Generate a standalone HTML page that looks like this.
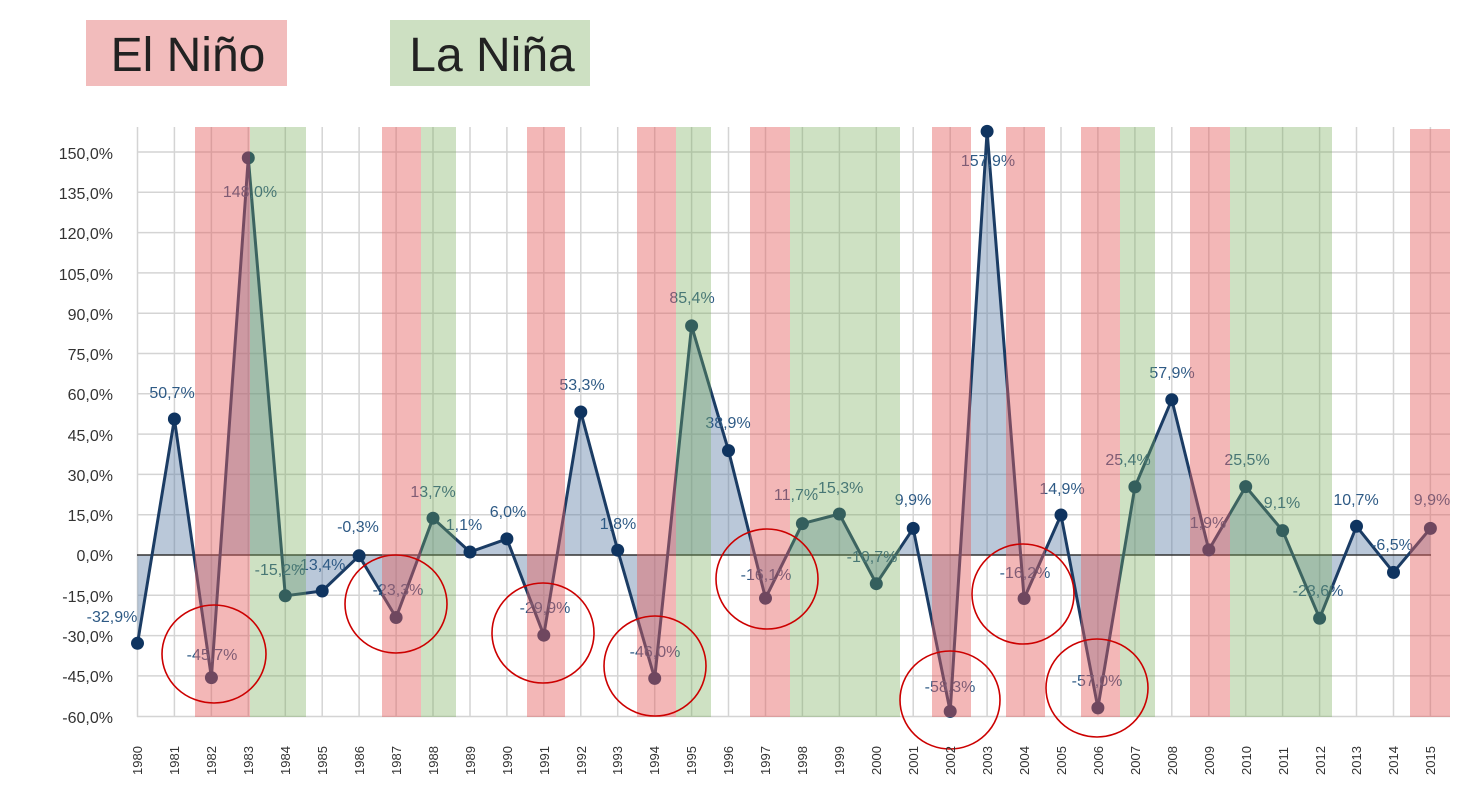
<!DOCTYPE html>
<html><head><meta charset="utf-8"><style>
body{margin:0;background:#fff;width:1459px;height:792px;overflow:hidden}
svg{display:block;font-family:"Liberation Sans",sans-serif}
</style></head><body>
<svg width="1459" height="792" viewBox="0 0 1459 792">
<rect x="86" y="20" width="201" height="66" fill="#f2bcbc"/>
<text x="188" y="71" font-size="48" text-anchor="middle" fill="#222">El Niño</text>
<rect x="390" y="20" width="200" height="66" fill="#cde0c2"/>
<text x="492" y="71" font-size="48" text-anchor="middle" fill="#222">La Niña</text>
<g stroke="#d4d4d4" stroke-width="1.5">
<line x1="137" y1="152" x2="1450" y2="152"/><line x1="137" y1="192.3" x2="1450" y2="192.3"/><line x1="137" y1="232.6" x2="1450" y2="232.6"/><line x1="137" y1="272.9" x2="1450" y2="272.9"/><line x1="137" y1="313.2" x2="1450" y2="313.2"/><line x1="137" y1="353.5" x2="1450" y2="353.5"/><line x1="137" y1="393.8" x2="1450" y2="393.8"/><line x1="137" y1="434.1" x2="1450" y2="434.1"/><line x1="137" y1="474.4" x2="1450" y2="474.4"/><line x1="137" y1="514.7" x2="1450" y2="514.7"/><line x1="137" y1="595.3" x2="1450" y2="595.3"/><line x1="137" y1="635.6" x2="1450" y2="635.6"/><line x1="137" y1="675.9" x2="1450" y2="675.9"/><line x1="137" y1="716.5" x2="1450" y2="716.5"/>
<line x1="137.5" y1="127" x2="137.5" y2="717"/><line x1="174.4" y1="127" x2="174.4" y2="717"/><line x1="211.4" y1="127" x2="211.4" y2="717"/><line x1="248.3" y1="127" x2="248.3" y2="717"/><line x1="285.3" y1="127" x2="285.3" y2="717"/><line x1="322.2" y1="127" x2="322.2" y2="717"/><line x1="359.1" y1="127" x2="359.1" y2="717"/><line x1="396.1" y1="127" x2="396.1" y2="717"/><line x1="433" y1="127" x2="433" y2="717"/><line x1="470" y1="127" x2="470" y2="717"/><line x1="506.9" y1="127" x2="506.9" y2="717"/><line x1="543.8" y1="127" x2="543.8" y2="717"/><line x1="580.8" y1="127" x2="580.8" y2="717"/><line x1="617.7" y1="127" x2="617.7" y2="717"/><line x1="654.7" y1="127" x2="654.7" y2="717"/><line x1="691.6" y1="127" x2="691.6" y2="717"/><line x1="728.5" y1="127" x2="728.5" y2="717"/><line x1="765.5" y1="127" x2="765.5" y2="717"/><line x1="802.4" y1="127" x2="802.4" y2="717"/><line x1="839.4" y1="127" x2="839.4" y2="717"/><line x1="876.3" y1="127" x2="876.3" y2="717"/><line x1="913.2" y1="127" x2="913.2" y2="717"/><line x1="950.2" y1="127" x2="950.2" y2="717"/><line x1="987.1" y1="127" x2="987.1" y2="717"/><line x1="1024.1" y1="127" x2="1024.1" y2="717"/><line x1="1061" y1="127" x2="1061" y2="717"/><line x1="1097.9" y1="127" x2="1097.9" y2="717"/><line x1="1134.9" y1="127" x2="1134.9" y2="717"/><line x1="1171.8" y1="127" x2="1171.8" y2="717"/><line x1="1208.8" y1="127" x2="1208.8" y2="717"/><line x1="1245.7" y1="127" x2="1245.7" y2="717"/><line x1="1282.6" y1="127" x2="1282.6" y2="717"/><line x1="1319.6" y1="127" x2="1319.6" y2="717"/><line x1="1356.5" y1="127" x2="1356.5" y2="717"/><line x1="1393.5" y1="127" x2="1393.5" y2="717"/><line x1="1430.4" y1="127" x2="1430.4" y2="717"/>
</g>
<polygon fill="rgba(90,125,165,0.42)" points="137.5,555 137.5,643.3 174.4,419 211.4,677.6 248.3,157.9 285.3,595.8 322.2,591 359.1,555.8 396.1,617.5 433,518.2 470,552 506.9,538.9 543.8,635.2 580.8,412 617.7,550.2 654.7,678.4 691.6,325.9 728.5,450.6 765.5,598.2 802.4,523.6 839.4,514 876.3,583.7 913.2,528.4 950.2,711.4 987.1,131.4 1024.1,598.5 1061,515 1097.9,707.9 1134.9,486.9 1171.8,399.7 1208.8,549.9 1245.7,486.6 1282.6,530.6 1319.6,618.3 1356.5,526.3 1393.5,572.4 1430.4,528.4 1430.4,555"/>
<line x1="137" y1="555" x2="1431" y2="555" stroke="#333" stroke-width="1.5"/>
<polyline fill="none" stroke="#1b3c64" stroke-width="3" stroke-linejoin="round" points="137.5,643.3 174.4,419 211.4,677.6 248.3,157.9 285.3,595.8 322.2,591 359.1,555.8 396.1,617.5 433,518.2 470,552 506.9,538.9 543.8,635.2 580.8,412 617.7,550.2 654.7,678.4 691.6,325.9 728.5,450.6 765.5,598.2 802.4,523.6 839.4,514 876.3,583.7 913.2,528.4 950.2,711.4 987.1,131.4 1024.1,598.5 1061,515 1097.9,707.9 1134.9,486.9 1171.8,399.7 1208.8,549.9 1245.7,486.6 1282.6,530.6 1319.6,618.3 1356.5,526.3 1393.5,572.4 1430.4,528.4"/>
<g fill="#0f3460">
<circle cx="137.5" cy="643.3" r="6.5"/><circle cx="174.4" cy="419" r="6.5"/><circle cx="211.4" cy="677.6" r="6.5"/><circle cx="248.3" cy="157.9" r="6.5"/><circle cx="285.3" cy="595.8" r="6.5"/><circle cx="322.2" cy="591" r="6.5"/><circle cx="359.1" cy="555.8" r="6.5"/><circle cx="396.1" cy="617.5" r="6.5"/><circle cx="433" cy="518.2" r="6.5"/><circle cx="470" cy="552" r="6.5"/><circle cx="506.9" cy="538.9" r="6.5"/><circle cx="543.8" cy="635.2" r="6.5"/><circle cx="580.8" cy="412" r="6.5"/><circle cx="617.7" cy="550.2" r="6.5"/><circle cx="654.7" cy="678.4" r="6.5"/><circle cx="691.6" cy="325.9" r="6.5"/><circle cx="728.5" cy="450.6" r="6.5"/><circle cx="765.5" cy="598.2" r="6.5"/><circle cx="802.4" cy="523.6" r="6.5"/><circle cx="839.4" cy="514" r="6.5"/><circle cx="876.3" cy="583.7" r="6.5"/><circle cx="913.2" cy="528.4" r="6.5"/><circle cx="950.2" cy="711.4" r="6.5"/><circle cx="987.1" cy="131.4" r="6.5"/><circle cx="1024.1" cy="598.5" r="6.5"/><circle cx="1061" cy="515" r="6.5"/><circle cx="1097.9" cy="707.9" r="6.5"/><circle cx="1134.9" cy="486.9" r="6.5"/><circle cx="1171.8" cy="399.7" r="6.5"/><circle cx="1208.8" cy="549.9" r="6.5"/><circle cx="1245.7" cy="486.6" r="6.5"/><circle cx="1282.6" cy="530.6" r="6.5"/><circle cx="1319.6" cy="618.3" r="6.5"/><circle cx="1356.5" cy="526.3" r="6.5"/><circle cx="1393.5" cy="572.4" r="6.5"/><circle cx="1430.4" cy="528.4" r="6.5"/>
</g>
<g fill="#2e5a85" font-size="16" text-anchor="middle">
<text x="112" y="622">-32,9%</text><text x="172" y="398">50,7%</text><text x="212" y="660">-45,7%</text><text x="250" y="197">148,0%</text><text x="280" y="575">-15,2%</text><text x="320" y="570">-13,4%</text><text x="358" y="532">-0,3%</text><text x="398" y="595">-23,3%</text><text x="433" y="497">13,7%</text><text x="464" y="530">1,1%</text><text x="508" y="517">6,0%</text><text x="545" y="613">-29,9%</text><text x="582" y="390">53,3%</text><text x="618" y="529">1,8%</text><text x="655" y="657">-46,0%</text><text x="692" y="303">85,4%</text><text x="728" y="428">38,9%</text><text x="766" y="580">-16,1%</text><text x="796" y="500">11,7%</text><text x="838" y="493">-15,3%</text><text x="872" y="562">-10,7%</text><text x="913" y="505">9,9%</text><text x="950" y="692">-58,3%</text><text x="988" y="166">157,9%</text><text x="1025" y="578">-16,2%</text><text x="1062" y="494">14,9%</text><text x="1097" y="686">-57,0%</text><text x="1128" y="465">25,4%</text><text x="1172" y="378">57,9%</text><text x="1208" y="528">1,9%</text><text x="1247" y="465">25,5%</text><text x="1282" y="508">9,1%</text><text x="1318" y="596">-23,6%</text><text x="1356" y="505">10,7%</text><text x="1392" y="550">-6,5%</text><text x="1432" y="505">9,9%</text>
</g>
<g fill="rgba(228,95,95,0.45)">
<rect x="195" y="127" width="55" height="590"/><rect x="382" y="127" width="39" height="590"/><rect x="527" y="127" width="38" height="590"/><rect x="637" y="127" width="39" height="590"/><rect x="750" y="127" width="40" height="590"/><rect x="932" y="127" width="39" height="590"/><rect x="1006" y="127" width="39" height="590"/><rect x="1081" y="127" width="39" height="590"/><rect x="1190" y="127" width="40" height="590"/><rect x="1410" y="129" width="40" height="588"/>
</g>
<g fill="rgba(120,172,90,0.36)">
<rect x="250" y="127" width="56" height="590"/><rect x="421" y="127" width="35" height="590"/><rect x="676" y="127" width="35" height="590"/><rect x="790" y="127" width="110" height="590"/><rect x="1120" y="127" width="35" height="590"/><rect x="1230" y="127" width="102" height="590"/>
</g>
<g fill="none" stroke="#cc0000" stroke-width="1.6">
<ellipse cx="214" cy="654" rx="52" ry="49"/><ellipse cx="396" cy="604" rx="51" ry="49"/><ellipse cx="543" cy="633" rx="51" ry="50"/><ellipse cx="655" cy="666" rx="51" ry="50"/><ellipse cx="767" cy="579" rx="51" ry="50"/><ellipse cx="950" cy="700" rx="50" ry="49"/><ellipse cx="1023" cy="594" rx="51" ry="50"/><ellipse cx="1097" cy="688" rx="51" ry="49"/>
</g>
<g fill="#333" font-size="16" text-anchor="end">
<text x="113" y="159">150,0%</text><text x="113" y="199">135,0%</text><text x="113" y="239">120,0%</text><text x="113" y="280">105,0%</text><text x="113" y="320">90,0%</text><text x="113" y="360">75,0%</text><text x="113" y="400">60,0%</text><text x="113" y="441">45,0%</text><text x="113" y="481">30,0%</text><text x="113" y="521">15,0%</text><text x="113" y="561">0,0%</text><text x="113" y="602">-15,0%</text><text x="113" y="642">-30,0%</text><text x="113" y="682">-45,0%</text><text x="113" y="723">-60,0%</text>
</g>
<g fill="#333" font-size="13">
<text transform="translate(142,775) rotate(-90)">1980</text><text transform="translate(179,775) rotate(-90)">1981</text><text transform="translate(216,775) rotate(-90)">1982</text><text transform="translate(253,775) rotate(-90)">1983</text><text transform="translate(290,775) rotate(-90)">1984</text><text transform="translate(327,775) rotate(-90)">1985</text><text transform="translate(364,775) rotate(-90)">1986</text><text transform="translate(401,775) rotate(-90)">1987</text><text transform="translate(438,775) rotate(-90)">1988</text><text transform="translate(475,775) rotate(-90)">1989</text><text transform="translate(512,775) rotate(-90)">1990</text><text transform="translate(549,775) rotate(-90)">1991</text><text transform="translate(586,775) rotate(-90)">1992</text><text transform="translate(622,775) rotate(-90)">1993</text><text transform="translate(659,775) rotate(-90)">1994</text><text transform="translate(696,775) rotate(-90)">1995</text><text transform="translate(733,775) rotate(-90)">1996</text><text transform="translate(770,775) rotate(-90)">1997</text><text transform="translate(807,775) rotate(-90)">1998</text><text transform="translate(844,775) rotate(-90)">1999</text><text transform="translate(881,775) rotate(-90)">2000</text><text transform="translate(918,775) rotate(-90)">2001</text><text transform="translate(955,775) rotate(-90)">2002</text><text transform="translate(992,775) rotate(-90)">2003</text><text transform="translate(1029,775) rotate(-90)">2004</text><text transform="translate(1066,775) rotate(-90)">2005</text><text transform="translate(1103,775) rotate(-90)">2006</text><text transform="translate(1140,775) rotate(-90)">2007</text><text transform="translate(1177,775) rotate(-90)">2008</text><text transform="translate(1214,775) rotate(-90)">2009</text><text transform="translate(1251,775) rotate(-90)">2010</text><text transform="translate(1288,775) rotate(-90)">2011</text><text transform="translate(1325,775) rotate(-90)">2012</text><text transform="translate(1361,775) rotate(-90)">2013</text><text transform="translate(1398,775) rotate(-90)">2014</text><text transform="translate(1435,775) rotate(-90)">2015</text>
</g>
</svg>
</body></html>
